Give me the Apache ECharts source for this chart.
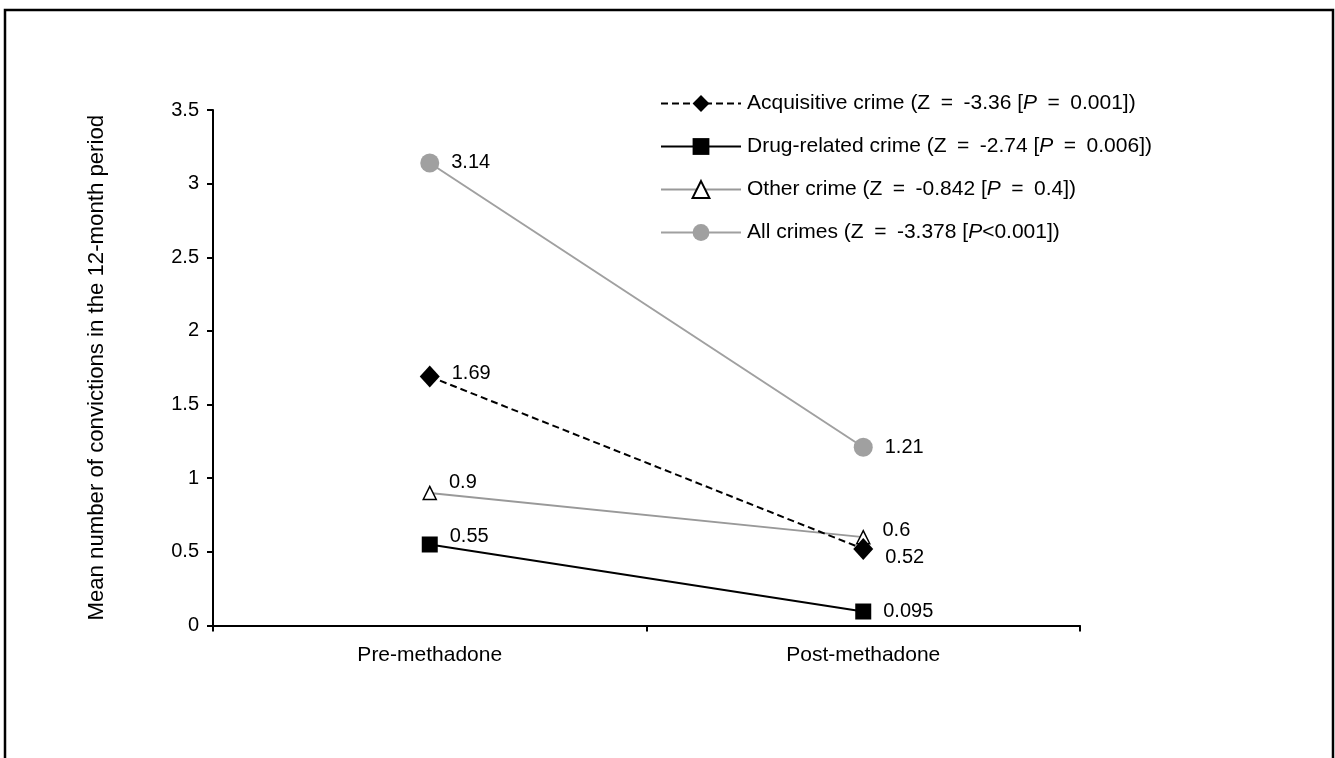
<!DOCTYPE html>
<html>
<head>
<meta charset="utf-8">
<script src="https://cdn.jsdelivr.net/npm/echarts@6/dist/echarts.min.js"></script>
<style>
html,body{margin:0;padding:0;background:#fff;}
#chart{width:1335px;height:758px;}
</style>
</head>
<body>
<div id="chart"></div>
<script>
var categories = ['Pre-methadone', 'Post-methadone'];
var seriesNames = [
  'Acquisitive crime (Z\u2002=\u2002-3.36 [{it|P}\u2002=\u20020.001])',
  'Drug-related crime (Z\u2002=\u2002-2.74 [{it|P}\u2002=\u20020.006])',
  'Other crime (Z\u2002=\u2002-0.842 [{it|P}\u2002=\u20020.4])',
  'All crimes (Z\u2002=\u2002-3.378 [{it|P}<0.001])'
];
var legendKeys = ['Acquisitive crime', 'Drug-related crime', 'Other crime', 'All crimes'];
var acquisitive = [1.69, 0.52];
var drugRelated = [0.55, 0.095];
var otherCrime = [0.9, 0.6];
var allCrimes = [3.14, 1.21];
var yTicks = [0, 0.5, 1, 1.5, 2, 2.5, 3, 3.5];

var FONT = 'Liberation Sans, Arial, Helvetica, sans-serif';
var labelFont = { fontFamily: FONT, fontSize: 20, color: '#000' };

function mkData(vals, offsets) {
  return vals.map(function (v, i) {
    return { value: v, label: { offset: offsets[i] } };
  });
}
function baseLabel() {
  return Object.assign({ show: true, position: 'right', distance: 12 }, labelFont);
}

var chart = echarts.init(document.getElementById('chart'), null, { renderer: 'canvas' });
var option = {
  animation: false,
  backgroundColor: '#fff',
  graphic: [{
    type: 'rect',
    shape: { x: 5, y: 10, width: 1328, height: 760 },
    style: { fill: 'none', stroke: '#000', lineWidth: 2.5 },
    silent: true
  }],
  grid: { left: 213, right: 255, top: 110, bottom: 132.5 },
  legend: {
    orient: 'vertical',
    left: 660,
    top: 93,
    padding: 0,
    itemWidth: 80,
    itemHeight: 21,
    itemGap: 22,
    data: legendKeys,
    formatter: function (name) { return seriesNames[legendKeys.indexOf(name)]; },
    textStyle: {
      fontFamily: FONT, fontSize: 21, color: '#000', padding: [0, 0, 0, 1],
      rich: { it: { fontStyle: 'italic', fontFamily: FONT, fontSize: 21, color: '#000' } }
    }
  },
  xAxis: {
    type: 'category',
    data: categories,
    boundaryGap: true,
    axisLine: { lineStyle: { color: '#000', width: 2 } },
    axisTick: { show: true, length: 6, lineStyle: { color: '#000', width: 2 } },
    axisLabel: { margin: 19, fontFamily: FONT, fontSize: 21, color: '#000' }
  },
  yAxis: {
    type: 'value',
    min: 0,
    max: 3.5,
    interval: 0.5,
    name: 'Mean number of convictions in the 12-month period',
    nameLocation: 'middle',
    nameGap: 105,
    nameTextStyle: { fontFamily: FONT, fontSize: 22.2, color: '#000' },
    axisLine: { show: true, lineStyle: { color: '#000', width: 2 } },
    axisTick: { show: true, length: 6, lineStyle: { color: '#000', width: 2 } },
    axisLabel: { margin: 14, fontFamily: FONT, fontSize: 20, color: '#000',
      formatter: function (v) { return yTicks.indexOf(v) >= 0 ? String(v) : ''; } },
    splitLine: { show: false }
  },
  series: [
    {
      name: 'Other crime', type: 'line',
      data: mkData(otherCrime, [[0, -10], [0, -7]]),
      symbol: 'triangle', symbolSize: 13,
      itemStyle: { color: '#fff', borderColor: '#000', borderWidth: 1.5 },
      lineStyle: { color: '#999', width: 2 },
      label: baseLabel(), z: 2
    },
    {
      name: 'Acquisitive crime', type: 'line',
      data: mkData(acquisitive, [[0, -3], [0, 9]]),
      symbol: 'diamond', symbolSize: [20, 22],
      itemStyle: { color: '#000' },
      lineStyle: { color: '#000', width: 2, type: [7, 4] },
      label: baseLabel(), z: 3
    },
    {
      name: 'Drug-related crime', type: 'line',
      data: mkData(drugRelated, [[0, -8], [0, 0]]),
      symbol: 'rect', symbolSize: 16,
      itemStyle: { color: '#000' },
      lineStyle: { color: '#000', width: 2 },
      label: baseLabel(), z: 3
    },
    {
      name: 'All crimes', type: 'line',
      data: mkData(allCrimes, [[0, -1], [0, 0]]),
      symbol: 'circle', symbolSize: 19,
      itemStyle: { color: '#a0a0a0' },
      lineStyle: { color: '#a0a0a0', width: 2 },
      label: baseLabel(), z: 3
    }
  ]
};
chart.setOption(option);
</script>
</body>
</html>
